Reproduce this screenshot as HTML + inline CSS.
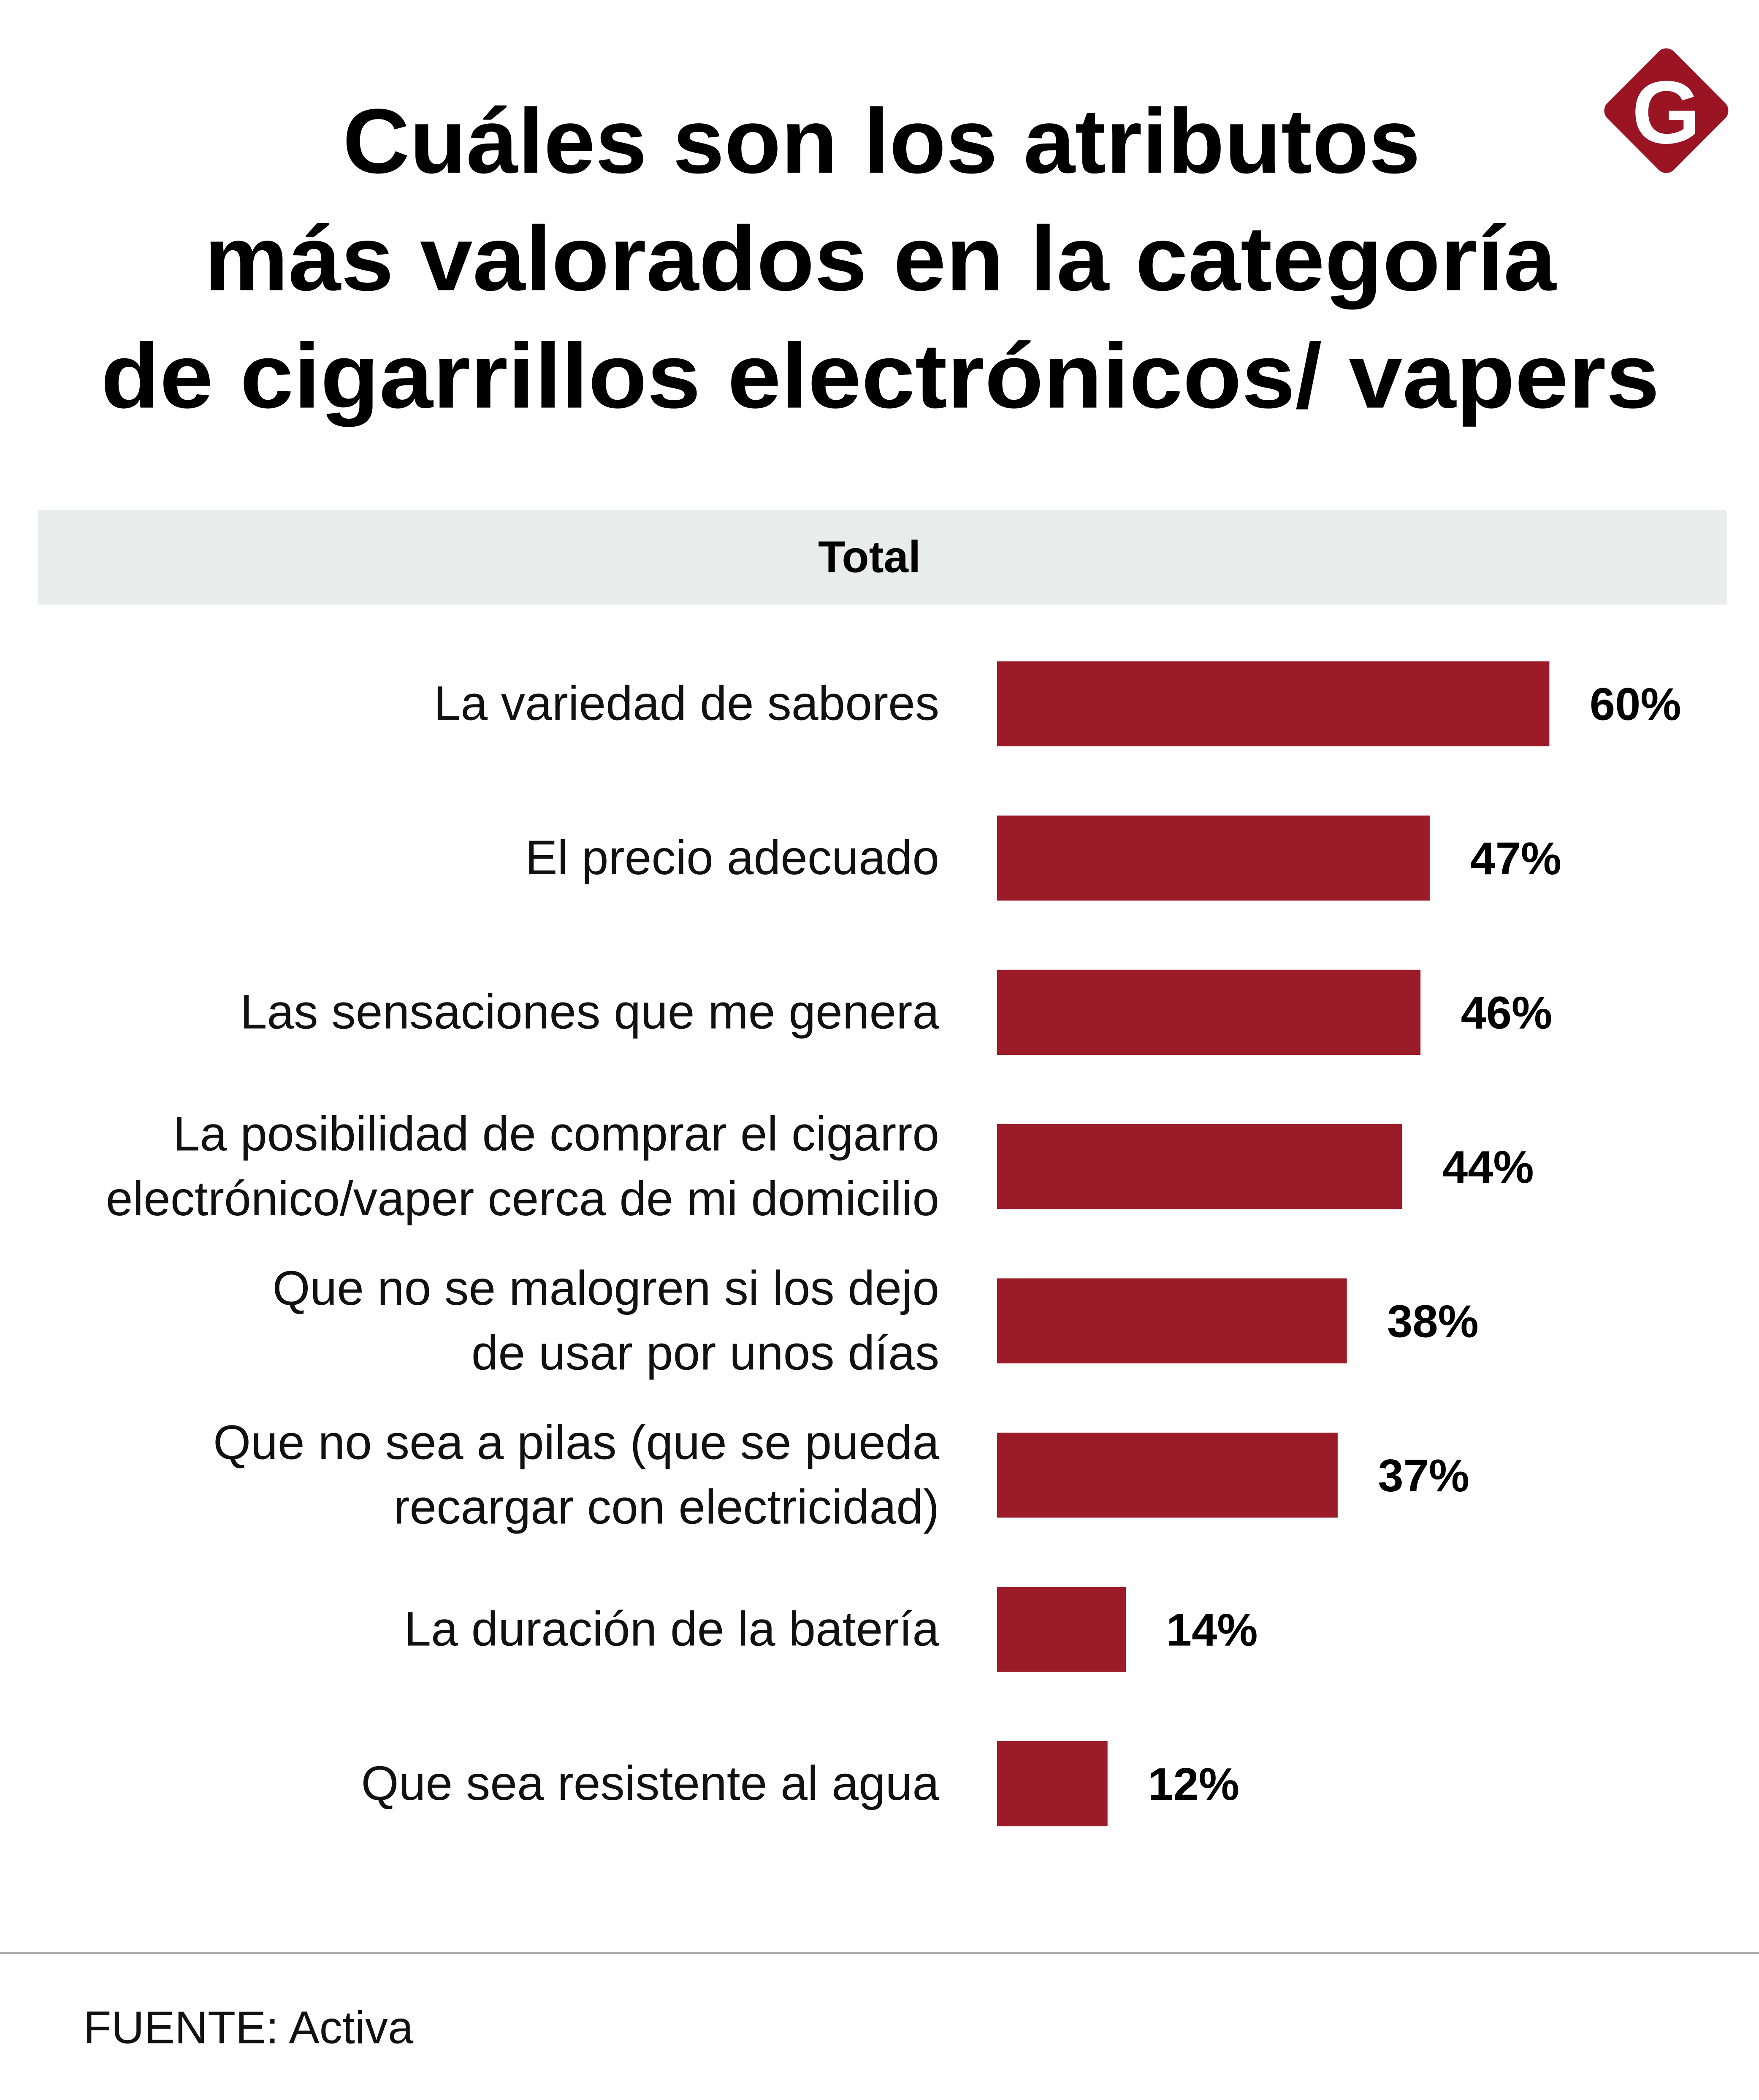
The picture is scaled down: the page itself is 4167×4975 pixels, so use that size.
<!DOCTYPE html>
<html lang="es">
<head>
<meta charset="utf-8">
<style>
  html,body{margin:0;padding:0;background:#fff;}
  #chart{display:block;width:4167px;height:4975px;}
  text{font-family:"Liberation Sans",sans-serif;}
</style>
</head>
<body>
<svg id="chart" viewBox="0 0 1309 1556" preserveAspectRatio="none" xmlns="http://www.w3.org/2000/svg">
  <rect x="0" y="0" width="1309" height="1556" fill="#ffffff"/>
  <g font-weight="bold" font-size="68" fill="#000">
    <text x="255" y="128" textLength="802" lengthAdjust="spacingAndGlyphs">Cuáles son los atributos</text>
    <text x="152" y="215" textLength="1006" lengthAdjust="spacingAndGlyphs">más valorados en la categoría</text>
    <text x="75" y="302" textLength="1160" lengthAdjust="spacingAndGlyphs">de cigarrillos electrónicos/ vapers</text>
  </g>
  <g>
    <rect x="1205" y="47" width="70" height="70" rx="8" fill="#9b1424" transform="rotate(45 1240 82)"/>
    <text x="1240" y="106" text-anchor="middle" font-size="66" font-weight="bold" fill="#fff">G</text>
  </g>
  <rect x="28" y="378" width="1257" height="70" fill="#e8ecea"/>
  <text x="647" y="424" text-anchor="middle" font-size="33" font-weight="bold" fill="#000">Total</text>
  <g id="bars"></g>
  <line x1="0" y1="1447" x2="1309" y2="1447" stroke="#aaaaaa" stroke-width="1.5"/>
  <text x="62" y="1514" font-size="34" fill="#111">FUENTE: Activa</text>
</svg>
<script>
const categories = [
  ["La variedad de sabores"],
  ["El precio adecuado"],
  ["Las sensaciones que me genera"],
  ["La posibilidad de comprar el cigarro","electrónico/vaper cerca de mi domicilio"],
  ["Que no se malogren si los dejo","de usar por unos días"],
  ["Que no sea a pilas (que se pueda","recargar con electricidad)"],
  ["La duración de la batería"],
  ["Que sea resistente al agua"]
];
const values = [60, 47, 46, 44, 38, 37, 14, 12];
const valueLabels = ["60%","47%","46%","44%","38%","37%","14%","12%"];

const NS = "http://www.w3.org/2000/svg";
const g = document.getElementById("bars");
const x0 = 742, pxPerPct = 6.85;
function xScale(v){ return x0 + v * pxPerPct; }
function yTop(i){ return 490 + i * 114.3; }
const barH = 63;

values.forEach(function(v, i){
  const top = yTop(i), cy = top + barH/2;
  const r = document.createElementNS(NS, "rect");
  r.setAttribute("x", x0);
  r.setAttribute("y", top);
  r.setAttribute("width", xScale(v) - x0);
  r.setAttribute("height", barH);
  r.setAttribute("fill", "#9b1c28");
  
  
  g.appendChild(r);

  const vt = document.createElementNS(NS, "text");
  vt.setAttribute("x", xScale(v) + 30);
  vt.setAttribute("y", cy + 12);
  vt.setAttribute("font-size", "34");
  vt.setAttribute("font-weight", "bold");
  vt.setAttribute("fill", "#000");
  vt.textContent = valueLabels[i];
  
  
  g.appendChild(vt);

  const lines = categories[i];
  const lt = document.createElementNS(NS, "text");
  lt.setAttribute("text-anchor", "end");
  lt.setAttribute("font-size", "36");
  lt.setAttribute("fill", "#111");
  
  
  const startY = lines.length === 1 ? cy + 12 : cy - 12;
  lines.forEach(function(line, j){
    const ts = document.createElementNS(NS, "tspan");
    ts.setAttribute("x", 699);
    ts.setAttribute("y", startY + j * 48);
    ts.textContent = line;
    lt.appendChild(ts);
  });
  g.appendChild(lt);
});
</script>
</body>
</html>
